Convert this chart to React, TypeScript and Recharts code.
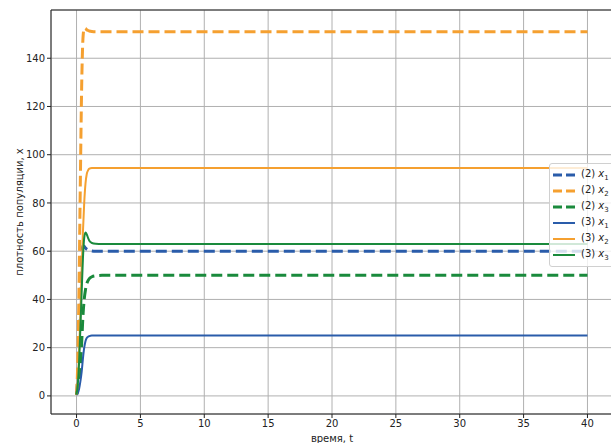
import {
  LineChart,
  Line,
  XAxis,
  YAxis,
  CartesianGrid,
  ReferenceLine,
} from "recharts";

// time points (denser where the populations grow fast)
const times = [0, 0.1, 0.2, 0.3, 0.4, 0.5, 0.6, 0.7, 0.8, 0.9, 1.0, 1.2, 1.5, 2, 3, 5, 10, 20, 30, 40];

// model (2)
const x1Model2 = [0.5, 8, 22, 42, 58, 62.3, 62, 61.3, 60.8, 60.5, 60.3, 60.1, 60, 60, 60, 60, 60, 60, 60, 60];
const x2Model2 = [0.5, 15, 47, 90, 128, 148, 152.5, 152.3, 151.8, 151.5, 151.3, 151.1, 151, 151, 151, 151, 151, 151, 151, 151];
const x3Model2 = [0.5, 3, 7, 13, 22, 33, 40, 44, 46.5, 47.8, 48.6, 49.4, 49.8, 50, 50, 50, 50, 50, 50, 50];

// model (3)
const x1Model3 = [0.5, 1.2, 3, 6, 10, 15.5, 20, 22.7, 24, 24.5, 24.8, 25, 25, 25, 25, 25, 25, 25, 25, 25];
const x2Model3 = [0.5, 6, 18, 34, 52, 68, 80, 88, 92, 93.5, 94.2, 94.5, 94.5, 94.5, 94.5, 94.5, 94.5, 94.5, 94.5, 94.5];
const x3Model3 = [0.5, 5, 14, 28, 43, 57, 65.5, 67.8, 67, 65.5, 64.3, 63.4, 63.1, 63, 63, 63, 63, 63, 63, 63];

const xTicks = [0, 5, 10, 15, 20, 25, 30, 35, 40];
const yTicks = [0, 20, 40, 60, 80, 100, 120, 140];

const BLUE = "#2a5caa";
const ORANGE = "#f5a030";
const GREEN = "#1a8a3c";

const data = times.map((t, i) => ({
  t,
  a1: x1Model2[i],
  a2: x2Model2[i],
  a3: x3Model2[i],
  b1: x1Model3[i],
  b2: x2Model3[i],
  b3: x3Model3[i],
}));

const series = [
  { key: "a1", model: "(2)", idx: 1, color: BLUE, dashed: true },
  { key: "a2", model: "(2)", idx: 2, color: ORANGE, dashed: true },
  { key: "a3", model: "(2)", idx: 3, color: GREEN, dashed: true },
  { key: "b1", model: "(3)", idx: 1, color: BLUE, dashed: false },
  { key: "b2", model: "(3)", idx: 2, color: ORANGE, dashed: false },
  { key: "b3", model: "(3)", idx: 3, color: GREEN, dashed: false },
];

const font = "'DejaVu Sans', sans-serif";

function LegendBox() {
  return (
    <div
      style={{
        position: "absolute",
        left: 549,
        top: 163,
        width: 70,
        padding: "3px 0 3px 3px",
        background: "rgba(255,255,255,0.8)",
        border: "1px solid #d0d0d0",
        borderRadius: 3,
        fontFamily: font,
        fontSize: 10,
        color: "#222",
      }}
    >
      {series.map((s) => (
        <div key={s.key} style={{ display: "flex", alignItems: "center", height: 16 }}>
          <svg width={24} height={8} style={{ marginRight: 4 }}>
            <line
              x1={0}
              x2={22}
              y1={4}
              y2={4}
              stroke={s.color}
              strokeWidth={s.dashed ? 3 : 2}
              strokeDasharray={s.dashed ? "9 4" : undefined}
            />
          </svg>
          <span style={{ whiteSpace: "nowrap" }}>
            {s.model} <i>x</i>
            <sub style={{ fontSize: 7 }}>{s.idx}</sub>
          </span>
        </div>
      ))}
    </div>
  );
}

export default function App() {
  return (
    <div style={{ position: "absolute", left: 0, top: 0, width: 611, height: 443, overflow: "hidden", background: "#fff" }}>
      <LineChart width={613} height={443} data={data} margin={{ top: 10, right: 0, left: 0, bottom: 0 }}>
        <CartesianGrid stroke="#b0b0b0" strokeWidth={1} />
        <XAxis
          dataKey="t"
          type="number"
          domain={[-2, 42]}
          ticks={xTicks}
          allowDataOverflow
          height={29}
          tickSize={4}
          tickMargin={2}
          stroke="#222"
          tick={{ fontSize: 10, fill: "#222", fontFamily: font }}
          label={{
            value: "время, t",
            position: "insideBottom",
            offset: 1,
            style: { fontSize: 10, fill: "#222", fontFamily: font },
          }}
        />
        <YAxis
          type="number"
          domain={[-7.5, 160]}
          ticks={yTicks}
          allowDataOverflow
          width={51}
          tickSize={4}
          tickMargin={2}
          stroke="#222"
          tick={{ fontSize: 10, fill: "#222", fontFamily: font }}
          label={{
            content: ({ viewBox }: any) => {
              const cy = viewBox.y + viewBox.height / 2;
              return (
                <text
                  x={19}
                  y={cy}
                  transform={`rotate(-90 19 ${cy})`}
                  textAnchor="middle"
                  dominantBaseline="central"
                  fontSize={10}
                  fill="#222"
                  fontFamily={font}
                >
                  плотность популяции, x
                </text>
              );
            },
          }}
        />
        <ReferenceLine y={160} stroke="#222" />
        <ReferenceLine x={42} stroke="#222" />
        {series.map((s) => (
          <Line
            key={s.key}
            type="monotone"
            dataKey={s.key}
            stroke={s.color}
            strokeWidth={s.dashed ? 3 : 2}
            strokeDasharray={s.dashed ? "11 5" : undefined}
            dot={false}
            isAnimationActive={false}
          />
        ))}
      </LineChart>
      <LegendBox />
    </div>
  );
}
